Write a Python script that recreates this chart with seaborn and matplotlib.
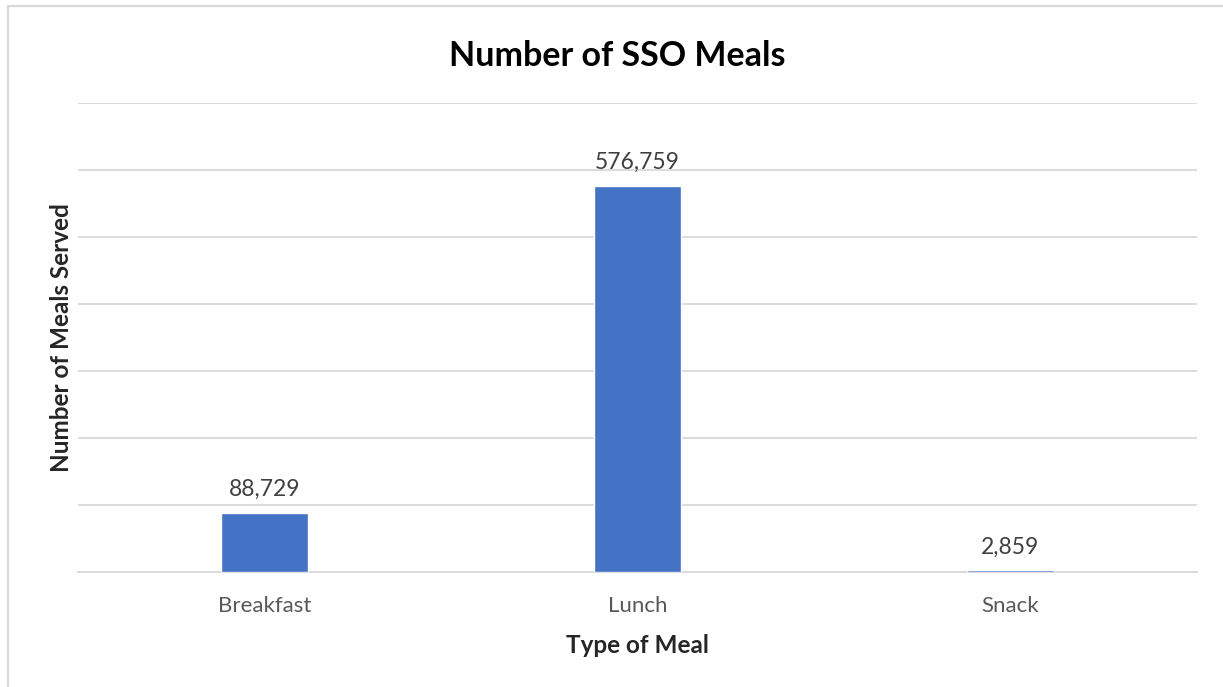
import matplotlib
matplotlib.use("Agg")
import matplotlib.pyplot as plt
import matplotlib.lines as mlines
import pandas as pd
import seaborn as sns

sns.set_style("white")
plt.rcParams["font.family"] = ["Lato", "DejaVu Sans"]

# -----------------------------
# Data
# -----------------------------
meal_types = ["Breakfast", "Lunch", "Snack"]
meals_served = [88729, 576759, 2859]

df = pd.DataFrame({"meal": meal_types, "served": meals_served})

GRID = "#d9d9d9"

fig = plt.figure(figsize=(12.23, 6.87), dpi=100)
ax = fig.add_axes([78 / 1223, 115 / 687, 1119 / 1223, 469 / 687])

sns.barplot(data=df, x="meal", y="served", color="#4472C4", width=0.233,
            saturation=1, ax=ax, zorder=3)

ax.set_ylim(0, 700000)
ax.set_xlim(-0.5, 2.5)
ax.set_yticks(range(0, 700001, 100000))
ax.set_yticklabels([])
ax.yaxis.grid(True, color=GRID, linewidth=1.3)
ax.set_axisbelow(True)
ax.tick_params(axis="y", length=0)

for side in ["top", "right", "left"]:
    ax.spines[side].set_visible(False)
ax.spines["bottom"].set_color(GRID)
ax.spines["bottom"].set_linewidth(1.3)

# category boundary ticks
ax.set_xticks([-0.5, 0.5, 1.5, 2.5], minor=True)
ax.tick_params(axis="x", which="minor", length=5, color=GRID, width=1.3)
ax.tick_params(axis="x", which="major", length=0, pad=17.5,
               labelsize=16, labelcolor="#595959")

ax.bar_label(ax.containers[0], labels=[f"{v:,}" for v in meals_served],
             padding=9, fontsize=16.5, color="#404040")

ax.set_title("Number of SSO Meals", fontsize=24.5, fontweight="bold",
             color="black", pad=27, x=0.482)
ax.set_xlabel("Type of Meal", fontsize=17.5, fontweight="bold", labelpad=13)
ax.set_ylabel("Number of Meals Served", fontsize=17.5, fontweight="bold",
              labelpad=0)

# outer chart frame (left and top edges visible)
fx = 7.5 / 1223
fy = 1 - 5.5 / 687
fig.add_artist(mlines.Line2D([fx, fx], [0, fy], transform=fig.transFigure,
                             color=GRID, linewidth=1.6))
fig.add_artist(mlines.Line2D([fx, 1], [fy, fy], transform=fig.transFigure,
                             color=GRID, linewidth=1.6))

plt.savefig("out.png", dpi=100)
